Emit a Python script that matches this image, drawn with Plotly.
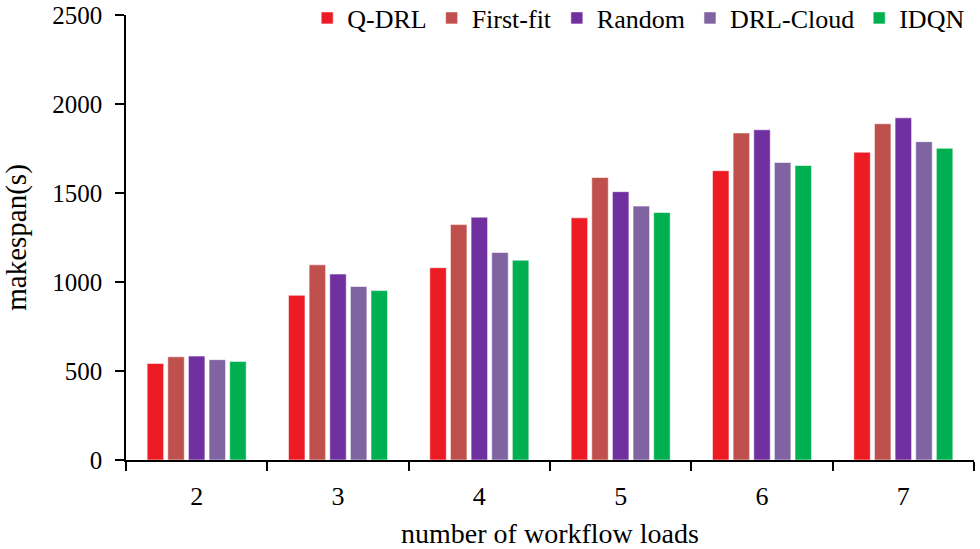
import plotly.graph_objects as go

categories = ["2", "3", "4", "5", "6", "7"]
q_drl = [543, 926, 1081, 1361, 1626, 1730]
first_fit = [580, 1097, 1323, 1588, 1838, 1890]
random_ = [584, 1045, 1365, 1508, 1856, 1923]
drl_cloud = [564, 975, 1166, 1427, 1672, 1789]
idqn = [554, 952, 1123, 1391, 1655, 1752]

series = [
    ("Q-DRL", q_drl, "#ED1C24"),
    ("First-fit", first_fit, "#C0504D"),
    ("Random", random_, "#7030A0"),
    ("DRL-Cloud", drl_cloud, "#8064A2"),
    ("IDQN", idqn, "#00B050"),
]

font_family = "Liberation Serif, Times New Roman, serif"

fig = go.Figure()
for name, vals, color in series:
    fig.add_trace(go.Bar(
        x=categories, y=vals, name=name,
        marker=dict(color=color, line=dict(color="rgba(255,255,255,0.55)", width=1)),
    ))

fig.update_layout(
    width=980, height=549,
    margin=dict(l=126, r=6, t=15, b=89, autoexpand=False),
    paper_bgcolor="white", plot_bgcolor="white",
    barmode="group", bargap=0.27, bargroupgap=0.2,
    font=dict(family=font_family, color="black", size=25),
    showlegend=True,
    legend=dict(orientation="h", xref="container", yref="container",
                x=0.99, xanchor="right", y=1 - 18 / 549, yanchor="middle",
                font=dict(size=26, family=font_family), bgcolor="rgba(0,0,0,0)",
                itemwidth=30, tracegroupgap=0),
)

fig.update_xaxes(
    type="category",
    showline=True, linecolor="black", linewidth=1.5,
    ticks="outside", tickson="boundaries", ticklen=9, tickwidth=1.5, tickcolor="black",
    tickfont=dict(size=26, family=font_family), ticklabelstandoff=12,
    title=dict(text="number of workflow loads", font=dict(size=28, family=font_family), standoff=14),
    showgrid=False, zeroline=False, automargin=False,
)
fig.update_yaxes(
    range=[0, 2501], tickvals=[0, 500, 1000, 1500, 2000, 2500],
    showline=True, linecolor="black", linewidth=1.5,
    ticks="outside", ticklen=9, tickwidth=1.5, tickcolor="black",
    tickfont=dict(size=25, family=font_family), ticklabelstandoff=8,
    ticklabeloverflow="allow",
    title=dict(text="makespan(s)", font=dict(size=29, family=font_family), standoff=20),
    showgrid=False, zeroline=False, automargin=False,
)

fig.write_html(
    "out.html",
    config={"displayModeBar": False},
    post_script="document.body.style.margin='0';document.body.style.overflow='hidden';",
)
